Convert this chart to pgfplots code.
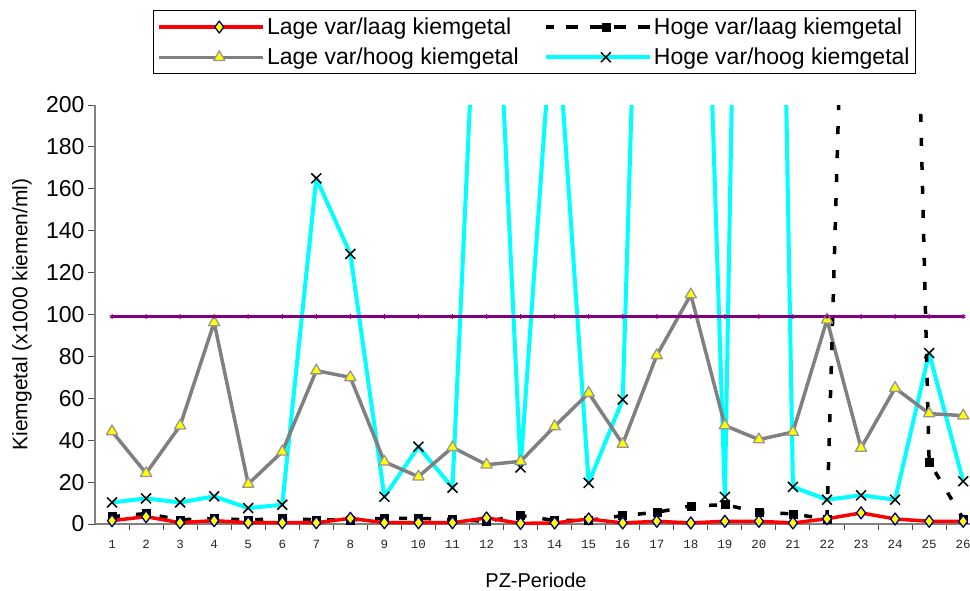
\documentclass[border=0pt]{standalone}
\usepackage{fontspec}
\setmainfont{Liberation Sans}
\newfontfamily\monofont{Liberation Mono}
\usepackage{pgfplots}
\usepackage{pgfplotstable}
\pgfplotsset{compat=1.18}
\definecolor{cyanc}{RGB}{0,255,255}
\definecolor{grayc}{RGB}{128,128,128}
\definecolor{trigray}{RGB}{150,150,150}
\definecolor{navyc}{RGB}{0,0,128}
\definecolor{purplec}{RGB}{128,0,128}
\definecolor{yellowc}{RGB}{255,255,0}
\definecolor{redc}{RGB}{255,0,0}
\definecolor{axisgray}{RGB}{128,128,128}

\pgfplotstableread{
x lvll hvll lvhl hvhl thr
1 1.6 3.5 44.2 10.3 99
2 3.5 5.0 24.2 12.2 99
3 0.6 2.0 46.9 10.3 99
4 1.6 2.7 96.2 13.2 99
5 0.6 1.9 19.1 7.6 99
6 0.6 2.7 34.5 9.2 99
7 0.6 2.0 73.2 165 99
8 2.7 2.0 70.0 128.9 99
9 0.6 2.7 29.7 13.0 99
10 0.6 2.7 22.6 36.9 99
11 0.6 2.1 36.6 17.3 99
12 2.9 1.3 28.3 375 99
13 0.3 4.0 29.9 27 99
14 0.5 1.7 46.6 258 99
15 2.4 1.7 62.5 19.6 99
16 0.5 4.0 38.2 59.4 99
17 1.3 5.6 80.5 600 99
18 0.5 8.6 109.5 520 99
19 1.3 9.2 47.0 12.9 99
20 1.3 5.7 40.3 950 99
21 0.5 4.8 43.9 17.7 99
22 2.5 2.4 97.5 11.6 99
23 5.3 580 36.3 13.7 99
24 2.4 700 64.9 11.6 99
25 1.3 29.7 52.7 81.6 99
26 1.3 2.5 51.7 20.4 99
}\datatable

\pgfplotsset{
  redstyle/.style={redc, line width=3.5pt, line join=round, mark=diamond*, mark size=6pt,
    mark options={solid, draw=navyc, fill=yellowc, line width=1.3pt}},
  dashstyle/.style={black, line width=3.5pt, dash pattern=on 8pt off 16pt, mark=square*, mark size=4pt,
    mark options={solid, fill=black, draw=black, line width=0.5pt}},
  graystyle/.style={grayc, line width=3.5pt, line join=round, mark=triangle*, mark size=6.5pt,
    mark options={solid, draw=trigray, fill=yellowc, line width=1.3pt}},
  cyanstyle/.style={cyanc, line width=4pt, line join=round, mark=x, mark size=7pt,
    mark options={solid, draw=black, line width=1.5pt}},
  purplestyle/.style={purplec, line width=3.5pt, mark=asterisk, mark size=2.5pt,
    mark options={solid, draw=purplec, line width=1pt}},
}

\begin{document}
\begin{tikzpicture}
\path[use as bounding box] (-95pt,-66pt) rectangle (875pt,524pt);
\begin{axis}[
  at={(0pt,0pt)}, anchor=south west,
  scale only axis, width=875pt, height=419pt,
  xmin=0.5, xmax=26.2, ymin=0, ymax=200,
  axis x line*=bottom, axis y line*=left,
  axis line style={axisgray, line width=1.5pt, -},
  xtick={1,...,26},
  major x tick style={draw=none},
  minor xtick={1.5,2.5,...,25.5},
  minor x tick style={black!70, line width=1pt},
  minor tick length=6pt,
  ytick={0,20,...,200},
  major y tick style={black!70, line width=1pt},
  major tick length=7pt,
  tick align=outside,
  /pgf/number format/assume math mode=true,
  yticklabel style={font=\fontsize{23}{23}\selectfont, black},
  xticklabel style={font=\monofont\fontsize{12.5}{12.5}\selectfont, black!85, yshift=-6pt},
  ylabel={Kiemgetal (x1000 kiemen/ml)},
  ylabel style={font=\fontsize{21}{21}\selectfont, at={(axis description cs:0,0.5)}, anchor=center, yshift=73pt},
  xlabel={PZ-Periode},
  xlabel style={font=\fontsize{20}{20}\selectfont, at={(axis description cs:0.504,0)}, anchor=center, yshift=-56pt},
  legend columns=2,
  legend style={at={(axis description cs:0.0663,1.2267)}, anchor=north west,
    draw=black, line width=1pt, font=\fontsize{23}{25}\selectfont,
    inner xsep=4pt, inner ysep=5.5pt, row sep=8pt,
    /tikz/every even column/.append style={column sep=23pt}},
  legend cell align=left,
  legend image code/.code={\path (0pt,0pt) -- (104pt,0pt);\draw[mark repeat=2, mark phase=2] plot coordinates {(20pt,0pt) (60pt,0pt) (100pt,0pt)};},
]
\addlegendimage{redstyle}
\addlegendentry{Lage var/laag kiemgetal}
\addlegendimage{dashstyle}
\addlegendentry{Hoge var/laag kiemgetal}
\addlegendimage{graystyle}
\addlegendentry{Lage var/hoog kiemgetal}
\addlegendimage{cyanstyle}
\addlegendentry{Hoge var/hoog kiemgetal}

\addplot[cyanstyle, forget plot] table[x=x, y=hvhl] {\datatable};
\addplot[graystyle, forget plot] table[x=x, y=lvhl] {\datatable};
\addplot[dashstyle, forget plot] table[x=x, y=hvll] {\datatable};
\addplot[redstyle, forget plot] table[x=x, y=lvll] {\datatable};
\addplot[purplestyle, forget plot] table[x=x, y=thr] {\datatable};
\end{axis}
\end{tikzpicture}
\end{document}
